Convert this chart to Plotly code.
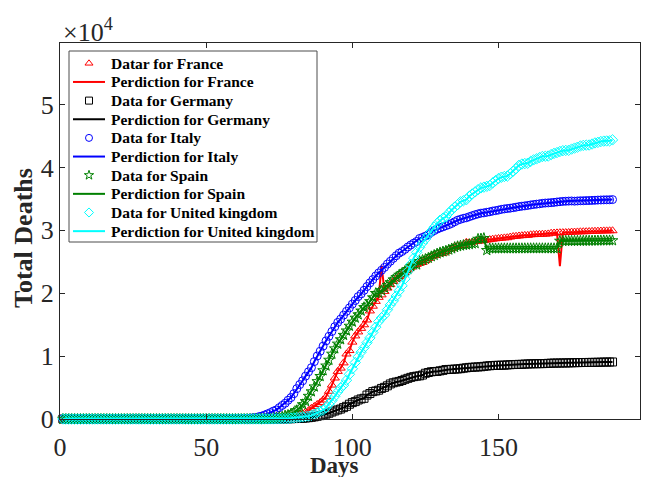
import plotly.graph_objects as go

days = list(range(1, 190))

france_data = [
    0, 0, 0, 0, 0, 0, 0, 0, 0, 0, 0, 0, 0, 0, 0, 0, 0, 0, 0, 0,
    0, 0, 0, 0, 0, 0, 0, 0, 0, 0, 0, 0, 0, 0, 0, 0, 0, 0, 0, 0,
    0, 0, 0, 0, 0, 1, 1, 1, 1, 1, 1, 1, 1, 1, 1, 1, 1, 1, 1, 2,
    2, 3, 4, 4, 6, 9, 11, 19, 19, 33,
    48, 48, 79, 91, 91, 149, 149, 149, 244, 451,
    563, 676, 862, 1102, 1333, 1698, 1997, 2317, 2611, 3030,
    3532, 4414, 5398, 6520, 7574, 8093, 8926, 10343, 10887, 12228,
    13215, 13851, 14412, 14986, 15748, 17188, 17941, 18703, 19345, 19744,
    20292, 20829, 21373, 21889, 22279, 22648, 22890, 23296, 23694, 24121,
    24410, 24594, 24763, 24900, 25204, 25537, 25812, 25990, 26233, 26313,
    26383, 26646, 26994, 27077, 27428, 27532, 27529, 27625, 28108, 28022,
    28132, 28215, 28289, 28332, 28367, 28460, 28530, 28599, 28665, 28714,
    28771, 28805, 28833, 28940, 29021, 29065, 29111, 29158, 29209, 29212,
    29299, 29322, 29349, 29377, 29398, 29407, 29439, 29550, 29578, 29606,
    29634, 29644, 29655, 29666, 29731, 29736, 29755, 29781, 29791, 29794,
    29816, 29846, 29864, 29878, 29896, 29917, 29921, 29936, 29943,
]
# glitches visible only in the France prediction line
france_glitch_days = [110, 171]
france_glitch_values = [24400, 24300]

germany_data = [
    0, 0, 0, 0, 0, 0, 0, 0, 0, 0, 0, 0, 0, 0, 0, 0, 0, 0, 0, 0,
    0, 0, 0, 0, 0, 0, 0, 0, 0, 0, 0, 0, 0, 0, 0, 0, 0, 0, 0, 0,
    0, 0, 0, 0, 0, 0, 0, 0, 0, 0, 0, 0, 0, 0, 0, 0, 0, 0, 0, 0,
    0, 0, 0, 0, 0, 0, 0, 0, 2, 2,
    3, 3, 7, 9, 11, 17, 24, 28, 44, 67,
    84, 94, 123, 157, 206, 267, 342, 433, 533, 645,
    775, 920, 1107, 1275, 1444, 1584, 1810, 2016, 2349, 2607,
    2767, 3022, 3194, 3294, 3804, 4052, 4352, 4459, 4586, 4862,
    5033, 5279, 5575, 5760, 5877, 5976, 6126, 6314, 6467, 6623,
    6736, 6812, 6866, 6993, 7275, 7392, 7510, 7549, 7569, 7661,
    7738, 7861, 7884, 7897, 7938, 7962, 8003, 8081, 8144, 8203,
    8228, 8261, 8283, 8309, 8372, 8428, 8470, 8504, 8530, 8540,
    8555, 8563, 8602, 8635, 8658, 8673, 8685, 8695, 8736, 8752,
    8772, 8783, 8793, 8801, 8807, 8820, 8851, 8875, 8887, 8895,
    8899, 8914, 8914, 8928, 8940, 8961, 8968, 8976, 8986, 8990,
    8995, 9003, 9010, 9023, 9032, 9052, 9054, 9062, 9070,
]

italy_data = [
    0, 0, 0, 0, 0, 0, 0, 0, 0, 0, 0, 0, 0, 0, 0, 0, 0, 0, 0, 0,
    0, 0, 0, 0, 0, 0, 0, 0, 0, 0, 0, 0, 0, 0, 0, 0, 0, 0, 0, 0,
    0, 0, 0, 0, 0, 0, 0, 0, 0, 0, 0, 1, 2, 3, 7, 10, 12, 17, 21, 29,
    34, 52, 79, 107, 148, 197, 233, 366, 463, 631,
    827, 1016, 1266, 1441, 1809, 2158, 2503, 2978, 3405, 4032,
    4825, 5476, 6077, 6820, 7503, 8165, 9134, 10023, 10779, 11591,
    12428, 13155, 13915, 14681, 15362, 15887, 16523, 17127, 17669, 18279,
    18849, 19468, 19899, 20465, 21067, 21645, 22170, 22745, 23227, 23660,
    24114, 24648, 25085, 25549, 25969, 26384, 26644, 26977, 27359, 27682,
    27967, 28236, 28710, 28884, 29079, 29315, 29684, 29958, 30201, 30395,
    30560, 30739, 30911, 31106, 31368, 31610, 31763, 31908, 32007, 32169,
    32330, 32486, 32616, 32735, 32785, 32877, 32955, 33072, 33142, 33229,
    33340, 33415, 33475, 33530, 33601, 33689, 33774, 33846, 33899, 33964,
    34043, 34114, 34167, 34223, 34301, 34345, 34371, 34405, 34448, 34514,
    34561, 34610, 34634, 34657, 34675, 34644, 34678, 34708, 34716, 34738,
    34744, 34767, 34788, 34818, 34833, 34854, 34861, 34869, 34899,
]

spain_data = [
    0, 0, 0, 0, 0, 0, 0, 0, 0, 0, 0, 0, 0, 0, 0, 0, 0, 0, 0, 0,
    0, 0, 0, 0, 0, 0, 0, 0, 0, 0, 0, 0, 0, 0, 0, 0, 0, 0, 0, 0,
    0, 0, 0, 0, 0, 0, 0, 0, 0, 0, 0, 0, 0, 0, 0, 0, 0, 0, 0, 0,
    0, 0, 1, 2, 3, 5, 10, 17, 28, 35,
    54, 55, 133, 195, 289, 342, 533, 623, 830, 1043,
    1375, 1772, 2311, 2808, 3647, 4365, 5138, 5982, 6803, 7716,
    8464, 9387, 10348, 11198, 11947, 12641, 13341, 14045, 14792, 15447,
    16081, 16606, 17209, 17756, 18056, 18708, 19315, 20002, 20043, 20453,
    20852, 21282, 21717, 22157, 22524, 22902, 23190, 23521, 23822, 24275,
    24543, 24543, 25100, 25264, 25428, 25613, 25857, 26070, 26299, 26478,
    26621, 26744, 26920, 27104, 27321, 27459, 27563, 27650, 27709, 27778,
    27888, 27940, 28628, 28678, 28752, 26834, 27117, 27118, 27119, 27121,
    27125, 27127, 27127, 27127, 27128, 27133, 27134, 27135, 27136, 27136,
    27136, 27136, 27136, 27136, 27136, 27136, 27136, 27136, 27136, 27136,
    28315, 28315, 28322, 28324, 28325, 28327, 28327, 28330, 28341, 28343,
    28346, 28355, 28364, 28368, 28385, 28385, 28385, 28388, 28392,
]

uk_data = [
    0, 0, 0, 0, 0, 0, 0, 0, 0, 0, 0, 0, 0, 0, 0, 0, 0, 0, 0, 0,
    0, 0, 0, 0, 0, 0, 0, 0, 0, 0, 0, 0, 0, 0, 0, 0, 0, 0, 0, 0,
    0, 0, 0, 0, 0, 0, 0, 0, 0, 0, 0, 0, 0, 0, 0, 0, 0, 0, 0, 0,
    0, 0, 0, 0, 1, 2, 2, 3, 4, 6,
    8, 8, 8, 21, 21, 56, 56, 72, 138, 178,
    234, 282, 336, 423, 466, 580, 761, 1021, 1231, 1411,
    1793, 2357, 2926, 3611, 4320, 4943, 5385, 6171, 7111, 7993,
    8974, 9892, 10629, 11347, 12129, 12894, 13759, 14607, 15498, 16095,
    16550, 17378, 18151, 18791, 19567, 20381, 21200, 22300, 23500, 24600,
    25600, 26500, 27300, 28000, 28600, 29300, 29900, 30500, 31100, 31600,
    31930, 32141, 32769, 33264, 33693, 34078, 34546, 34716, 34876, 35422,
    35786, 36124, 36475, 36757, 36875, 37005, 37139, 37542, 37919, 38243,
    38458, 38571, 38627, 39000, 39410, 39807, 40344, 40548, 40625, 40680,
    40966, 41213, 41364, 41566, 41747, 41783, 41821, 42054, 42238, 42373,
    42546, 42674, 42717, 42731, 42927, 43081, 43230, 43414, 43514, 43550,
    43575, 43730, 43906, 43995, 44131, 44198, 44220, 44236, 44391,
]

france_pred = list(france_data)
for d, v in zip(france_glitch_days, france_glitch_values):
    france_pred[days.index(d)] = v

x_tick_vals = [0, 50, 100, 150]
y_tick_vals = [0, 10000, 20000, 30000, 40000, 50000]
y_tick_text = ["0", "1", "2", "3", "4", "5"]

series = [
    ("Datar for France", "Perdiction for France", france_data, france_pred, "#ff0000", "triangle-up-open"),
    ("Data for Germany", "Perdiction for Germany", germany_data, germany_data, "#000000", "square-open"),
    ("Data for Italy", "Perdiction for Italy", italy_data, italy_data, "#0000ff", "circle-open"),
    ("Data for Spain", "Perdiction for Spain", spain_data, spain_data, "#008000", "star-open"),
    ("Data for United kingdom", "Perdiction for United kingdom", uk_data, uk_data, "#00ffff", "diamond-open"),
]

fig = go.Figure()
for dname, pname, dvals, pvals, col, sym in series:
    fig.add_trace(go.Scatter(
        x=days, y=pvals, mode="lines", name=pname, showlegend=False,
        line=dict(color=col, width=2), cliponaxis=False,
    ))
    fig.add_trace(go.Scatter(
        x=days, y=dvals, mode="markers", name=dname, showlegend=False,
        marker=dict(symbol=sym, size=8, color=col, line=dict(width=1, color=col)),
        cliponaxis=False,
    ))

# ---- hand-drawn legend (pixel overlay axes x2/y2) ----
leg_box = dict(x0=69, x1=317, y0=51, y1=242)
leg_row_y0 = 63.3
leg_row_step = 18.65
leg_line_x = (73, 105)
leg_marker_x = 89
leg_text_x = 109

shapes = [dict(type="rect", xref="x2", yref="y2", layer="below",
               x0=leg_box["x0"], x1=leg_box["x1"], y0=leg_box["y0"], y1=leg_box["y1"],
               line=dict(color="#4d4d4d", width=1), fillcolor="white")]
annotations = []
mk_y, mk_sym, mk_col = [], [], []
row = 0
for dname, pname, dvals, pvals, col, sym in series:
    yd = leg_row_y0 + leg_row_step * row
    yp = leg_row_y0 + leg_row_step * (row + 1)
    mk_y.append(yd)
    mk_sym.append(sym)
    mk_col.append(col)
    shapes.append(dict(type="line", xref="x2", yref="y2", x0=leg_line_x[0], x1=leg_line_x[1],
                       y0=yp, y1=yp, line=dict(color=col, width=2)))
    for txt, yy in ((dname, yd), (pname, yp)):
        annotations.append(dict(text="<b>" + txt + "</b>", xref="x2", yref="y2",
                                x=leg_text_x, y=yy, xanchor="left", yanchor="middle",
                                showarrow=False,
                                font=dict(family="Liberation Serif", size=15.5, color="black")))
    row += 2

fig.add_trace(go.Scatter(
    x=[leg_marker_x] * len(mk_y), y=mk_y, mode="markers", xaxis="x2", yaxis="y2",
    showlegend=False, hoverinfo="skip", cliponaxis=False,
    marker=dict(symbol=mk_sym, size=7, color=mk_col, line=dict(width=1, color=mk_col)),
))

axis_col = "#262626"
PW, PH = 580.0, 376.0


def px(xp):
    return (xp - 60) / PW


def py(yp):
    return (419 - yp) / PH


annotations += [
    dict(text="×10<sup>4</sup>", xref="paper", yref="paper",
         x=px(61), y=py(30), xanchor="left", yanchor="middle",
         showarrow=False, font=dict(size=26, color=axis_col)),
    dict(text="<b>Days</b>", xref="paper", yref="paper",
         x=px(334), y=py(465), xanchor="center", yanchor="middle",
         showarrow=False, font=dict(size=23, color=axis_col)),
    dict(text="<b>Total Deaths</b>", xref="paper", yref="paper",
         x=px(24), y=py(238), xanchor="center", yanchor="middle",
         textangle=-90, showarrow=False, font=dict(size=26, color=axis_col)),
]

fig.update_layout(
    width=650, height=477,
    margin=dict(l=60, r=10, t=43, b=58),
    paper_bgcolor="white", plot_bgcolor="white",
    font=dict(family="Liberation Serif, Times New Roman, serif", color=axis_col),
    showlegend=False,
    xaxis=dict(
        range=[0, 198.4], tickvals=x_tick_vals, ticks="inside", ticklen=5,
        showline=True, linecolor=axis_col, linewidth=1, mirror="ticks",
        tickcolor=axis_col, showgrid=False, zeroline=False, automargin=False,
        tickfont=dict(size=26, color=axis_col), ticklabelstandoff=5,
    ),
    yaxis=dict(
        range=[0, 59800], tickvals=y_tick_vals, ticktext=y_tick_text,
        ticks="inside", ticklen=5, automargin=False,
        showline=True, linecolor=axis_col, linewidth=1, mirror="ticks",
        tickcolor=axis_col, showgrid=False, zeroline=False,
        tickfont=dict(size=26, color=axis_col),
    ),
    xaxis2=dict(overlaying="x", anchor="y2", range=[60, 640], visible=False, fixedrange=True),
    yaxis2=dict(overlaying="y", anchor="x2", range=[419, 43], visible=False, fixedrange=True),
    shapes=shapes,
    annotations=annotations,
)

fig.write_html("out.html")
